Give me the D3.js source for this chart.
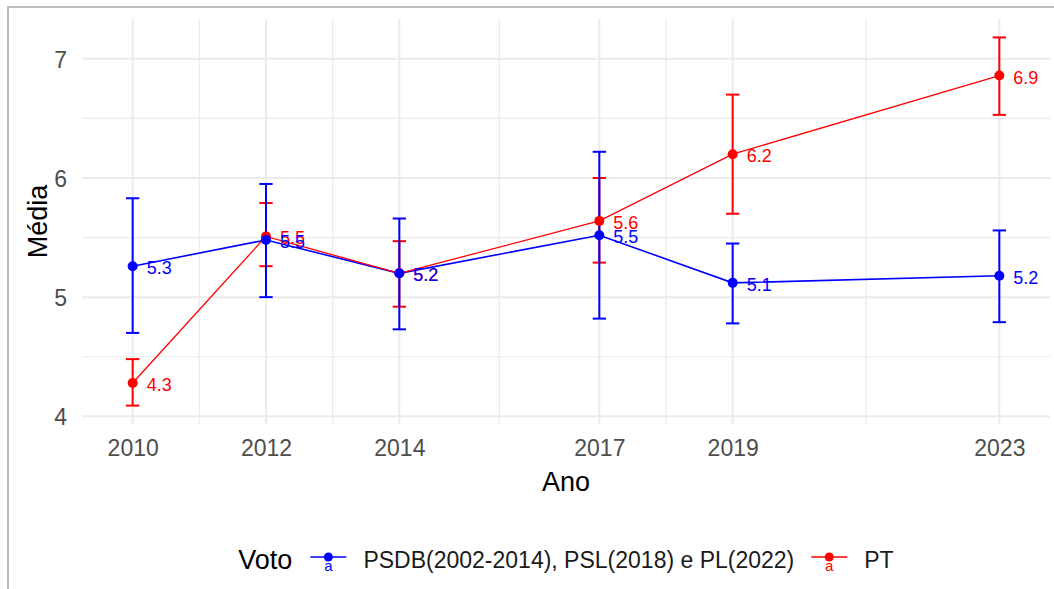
<!DOCTYPE html>
<html>
<head>
<meta charset="utf-8">
<script src="https://cdn.jsdelivr.net/npm/d3@7"></script>
<style>
  body { margin: 0; background: #fff; }
  svg { display: block; font-family: "Liberation Sans", Arial, sans-serif; }
</style>
</head>
<body>
<div id="viz"></div>
<script>
// chart values
var years = [2010, 2012, 2014, 2017, 2019, 2023];
var yTicks = [4, 5, 6, 7];
var seriesNames = ["PSDB(2002-2014), PSL(2018) e PL(2022)", "PT"];
var psdbMean = [5.26, 5.48, 5.20, 5.52, 5.12, 5.18];
var psdbLow  = [4.70, 5.00, 4.73, 4.82, 4.78, 4.79];
var psdbHigh = [5.83, 5.95, 5.66, 6.22, 5.45, 5.56];
var ptMean = [4.28, 5.51, 5.20, 5.64, 6.20, 6.86];
var ptLow  = [4.09, 5.26, 4.92, 5.29, 5.70, 6.53];
var ptHigh = [4.48, 5.79, 5.47, 6.00, 6.70, 7.18];

var W = 1054, H = 589;
var colors = { psdb: "#0000FF", pt: "#FF0000" };

function rows(mean, low, high) {
  return years.map(function (y, i) {
    return { ano: y, media: mean[i], low: low[i], high: high[i] };
  });
}
var series = [
  { key: "psdb", name: seriesNames[0], data: rows(psdbMean, psdbLow, psdbHigh), width: 1.6 },
  { key: "pt", name: seriesNames[1], data: rows(ptMean, ptLow, ptHigh), width: 1.3 }
];

// panel
var panel = { left: 82, right: 1050, top: 19, bottom: 424 };

// x: errorbar half width 0.1 year + 5% expand
var capHalf = 0.1;
var xmin = d3.min(years) - capHalf, xmax = d3.max(years) + capHalf;
var xpad = (xmax - xmin) * 0.05;
var x = d3.scaleLinear().domain([xmin - xpad, xmax + xpad]).range([panel.left, panel.right]);

var allLow = d3.min(series, function (s) { return d3.min(s.data, function (d) { return d.low; }); });
var allHigh = d3.max(series, function (s) { return d3.max(s.data, function (d) { return d.high; }); });
var ypad = (allHigh - allLow) * 0.05;
var y = d3.scaleLinear().domain([allLow - ypad, allHigh + ypad]).range([panel.bottom, panel.top]);

var svg = d3.select("#viz").append("svg").attr("width", W).attr("height", H);

// outer frame of the cropped image
svg.append("rect")
  .attr("x", 8).attr("y", 7)
  .attr("width", W + 20).attr("height", H + 20)
  .attr("fill", "#fff")
  .attr("stroke", "#BEBEBE")
  .attr("stroke-width", 2);

// grid: minor first
var xMinor = d3.pairs(years).map(function (p) { return (p[0] + p[1]) / 2; });
var yMinor = d3.pairs(yTicks).map(function (p) { return (p[0] + p[1]) / 2; });
var grid = svg.append("g").attr("stroke", "#EBEBEB").attr("fill", "none");

grid.selectAll(".yminor").data(yMinor).enter().append("line")
  .attr("x1", panel.left).attr("x2", panel.right)
  .attr("y1", function (d) { return y(d); }).attr("y2", function (d) { return y(d); })
  .attr("stroke-width", 1.2);
grid.selectAll(".xminor").data(xMinor).enter().append("line")
  .attr("y1", panel.top).attr("y2", panel.bottom)
  .attr("x1", function (d) { return x(d); }).attr("x2", function (d) { return x(d); })
  .attr("stroke-width", 1.2);
grid.selectAll(".ymajor").data(yTicks).enter().append("line")
  .attr("x1", panel.left).attr("x2", panel.right)
  .attr("y1", function (d) { return y(d); }).attr("y2", function (d) { return y(d); })
  .attr("stroke-width", 2);
grid.selectAll(".xmajor").data(years).enter().append("line")
  .attr("y1", panel.top).attr("y2", panel.bottom)
  .attr("x1", function (d) { return x(d); }).attr("x2", function (d) { return x(d); })
  .attr("stroke-width", 2);

// axes (text only, theme_minimal)
var xAxis = svg.append("g")
  .attr("transform", "translate(0," + panel.bottom + ")")
  .call(d3.axisBottom(x).tickValues(years).tickFormat(d3.format("d")).tickSize(0).tickPadding(24));
var yAxis = svg.append("g")
  .attr("transform", "translate(" + panel.left + ",0)")
  .call(d3.axisLeft(y).tickValues(yTicks).tickFormat(d3.format("d")).tickSize(0).tickPadding(15));
[xAxis, yAxis].forEach(function (a) {
  a.select(".domain").remove();
  a.selectAll("text")
    .attr("fill", "#4D4D4D")
    .style("font-size", "23px")
    .style("font-family", "Liberation Sans, Arial, sans-serif");
});
xAxis.selectAll("text").attr("dy", 0).attr("y", 32);
yAxis.selectAll("text").attr("dy", "0.36em");

// axis titles
svg.append("text")
  .attr("x", (panel.left + panel.right) / 2).attr("y", 491)
  .attr("text-anchor", "middle")
  .style("font-size", "27px")
  .text("Ano");
svg.append("text")
  .attr("transform", "translate(47," + (panel.top + panel.bottom) / 2 + ") rotate(-90)")
  .attr("text-anchor", "middle")
  .style("font-size", "27px")
  .text("Média");

// lines
var line = d3.line()
  .x(function (d) { return x(d.ano); })
  .y(function (d) { return y(d.media); });
series.forEach(function (s) {
  svg.append("path")
    .datum(s.data)
    .attr("class", "line")
    .attr("d", line)
    .attr("fill", "none")
    .attr("stroke", colors[s.key])
    .attr("stroke-width", s.width);
});

// error bars, red under blue
var capPx = x(years[0] + capHalf) - x(years[0]);
series.slice().reverse().forEach(function (s) {
  var g = svg.append("g").attr("stroke", colors[s.key]).attr("stroke-width", 2).attr("fill", "none");
  var eb = g.selectAll("g").data(s.data).enter().append("g");
  eb.append("line")
    .attr("x1", function (d) { return x(d.ano); }).attr("x2", function (d) { return x(d.ano); })
    .attr("y1", function (d) { return y(d.low); }).attr("y2", function (d) { return y(d.high); });
  eb.append("line")
    .attr("x1", function (d) { return x(d.ano) - capPx; }).attr("x2", function (d) { return x(d.ano) + capPx; })
    .attr("y1", function (d) { return y(d.low); }).attr("y2", function (d) { return y(d.low); });
  eb.append("line")
    .attr("x1", function (d) { return x(d.ano) - capPx; }).attr("x2", function (d) { return x(d.ano) + capPx; })
    .attr("y1", function (d) { return y(d.high); }).attr("y2", function (d) { return y(d.high); });
});

// points
series.slice().reverse().forEach(function (s) {
  svg.append("g").selectAll("circle").data(s.data).enter().append("circle")
    .attr("cx", function (d) { return x(d.ano); })
    .attr("cy", function (d) { return y(d.media); })
    .attr("r", 5)
    .attr("fill", colors[s.key]);
});

// value labels
series.slice().reverse().forEach(function (s) {
  svg.append("g").selectAll("text").data(s.data).enter().append("text")
    .attr("x", function (d) { return x(d.ano) + 14; })
    .attr("y", function (d) { return y(d.media) + 2; })
    .attr("dominant-baseline", "central")
    .attr("fill", colors[s.key])
    .style("font-size", "18px")
    .text(function (d) { return d3.format(".1f")(d.media); });
});

// legend, centred under the panel
var legY = 560;
var leg = svg.append("g");
var title = leg.append("text").attr("x", 0).attr("y", legY + 9)
  .style("font-size", "27px").text("Voto");
var cx = title.node().getComputedTextLength() + 18;
series.forEach(function (s) {
  var k = leg.append("g").attr("transform", "translate(" + cx + ",0)");
  k.append("line").attr("x1", 0).attr("x2", 36).attr("y1", legY - 3).attr("y2", legY - 3)
    .attr("stroke", colors[s.key]).attr("stroke-width", 1.6);
  k.append("circle").attr("cx", 18).attr("cy", legY - 3).attr("r", 4.5).attr("fill", colors[s.key]);
  k.append("text").attr("x", 18).attr("y", legY + 11).attr("text-anchor", "middle")
    .attr("fill", colors[s.key]).style("font-size", "15px").text("a");
  var t = leg.append("text").attr("x", cx + 53).attr("y", legY + 8)
    .style("font-size", "23px").attr("fill", "#1A1A1A").text(s.name);
  cx += 53 + t.node().getComputedTextLength() + 17;
});
var legW = cx - 17;
leg.attr("transform", "translate(" + ((panel.left + panel.right) / 2 - legW / 2) + ",0)");
</script>
</body>
</html>
